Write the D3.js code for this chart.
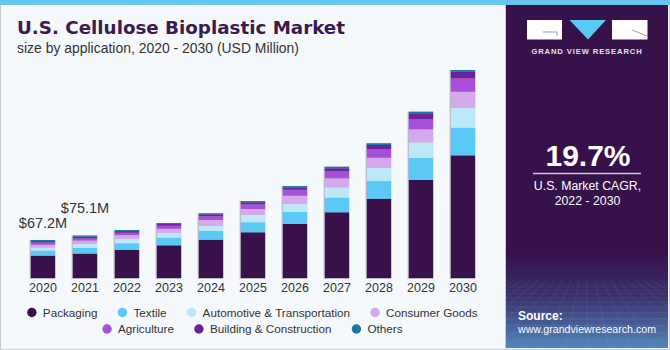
<!DOCTYPE html>
<html>
<head>
<meta charset="utf-8">
<script src="https://cdn.jsdelivr.net/npm/d3@7"></script>
<style>
  html, body { margin: 0; padding: 0; background: #fff; }
  svg { display: block; font-family: "Liberation Sans", Arial, sans-serif; }
</style>
</head>
<body>
<div id="chart"></div>
<script>
// values in USD million
const years = ["2020", "2021", "2022", "2023", "2024", "2025", "2026", "2027", "2028", "2029", "2030"];
const segments = ["Packaging", "Textile", "Automotive & Transportation", "Consumer Goods", "Agriculture", "Building & Construction", "Others"];
const packaging    = [39.5, 43.2, 49.5, 57.8, 67.7, 80.8, 95.5, 116.2, 140.2, 173.3, 216.9];
const textile      = [8.8, 9.9, 11.8, 13.4, 15.4, 17.7, 21.2, 25.8, 31.3, 38.9, 48.8];
const automotive   = [5.8, 7.1, 8.1, 8.3, 9.4, 12.9, 14.7, 18.4, 23.5, 27.8, 35.4];
const consumer     = [4.8, 6.0, 6.5, 7.6, 10.1, 10.6, 14.1, 15.9, 17.7, 23.0, 28.3];
const agriculture  = [4.1, 4.1, 4.1, 5.3, 6.5, 8.3, 10.6, 12.9, 15.4, 18.2, 23.7];
const building     = [2.3, 3.0, 3.0, 3.0, 3.5, 3.5, 4.2, 4.8, 7.1, 10.1, 11.7];
const others       = [1.8, 1.8, 1.8, 1.8, 1.8, 2.3, 2.3, 2.8, 3.0, 2.8, 3.0];
const valueLabels = [{ year: "2020", text: "$67.2M", lift: 12 }, { year: "2021", text: "$75.1M", lift: 23 }];
const colors = ["#38104a", "#5bc9f6", "#bde8f8", "#d6a8ec", "#a64fd8", "#6e1f9a", "#16779f"];

const W = 670, H = 350;
const series = [packaging, textile, automotive, consumer, agriculture, building, others];
const table = years.map((y, i) => {
  const row = { year: y };
  segments.forEach((s, j) => row[s] = series[j][i]);
  return row;
});

const svg = d3.select("#chart").append("svg").attr("width", W).attr("height", H);

// background
svg.append("rect").attr("width", W).attr("height", H).attr("fill", "#f5f9fc");
svg.append("rect").attr("x", 0.5).attr("y", 0.5).attr("width", W - 1).attr("height", H - 1)
  .attr("fill", "none").attr("stroke", "#c9c9c9");

// right panel
const defs = svg.append("defs");
const grad = defs.append("linearGradient").attr("id", "panelGrad").attr("x1", 0).attr("y1", 0).attr("x2", 0).attr("y2", 1);
grad.append("stop").attr("offset", "0%").attr("stop-color", "#37114a");
grad.append("stop").attr("offset", "72%").attr("stop-color", "#37114a");
grad.append("stop").attr("offset", "85%").attr("stop-color", "#3a2f6a");
grad.append("stop").attr("offset", "100%").attr("stop-color", "#5285bd");
const px0 = 506, px1 = 668;
svg.append("rect").attr("x", px0).attr("y", 0).attr("width", px1 - px0).attr("height", H - 2)
  .attr("fill", "url(#panelGrad)");

// faint mesh at the bottom of the panel
const mesh = svg.append("g").attr("stroke", "#8fb6e0").attr("stroke-width", 0.5).attr("fill", "none");
d3.range(0, 16).forEach(i => {
  const y = 285 + i * i * 0.28 + i * 2;
  if (y < H - 2) mesh.append("line").attr("x1", px0).attr("x2", px1).attr("y1", y).attr("y2", y)
    .attr("opacity", 0.15 + i * 0.02);
});
d3.range(-12, 13).forEach(i => {
  mesh.append("line").attr("x1", Math.max(px0, 587 + i * 8)).attr("y1", 280)
    .attr("x2", 587 + i * 22).attr("y2", H - 2)
    .attr("opacity", 0.22);
});
// clip the mesh to the panel
defs.append("clipPath").attr("id", "panelClip").append("rect")
  .attr("x", px0).attr("y", 0).attr("width", px1 - px0).attr("height", H - 2);
mesh.attr("clip-path", "url(#panelClip)");
svg.append("rect").attr("x", px0 - 1).attr("y", 0).attr("width", 1).attr("height", H).attr("fill", "#c9c9c9");

// top strip
svg.append("rect").attr("x", 0).attr("y", 0).attr("width", W).attr("height", 5).attr("fill", "#66c6ee");

// logo
const logo = svg.append("g");
logo.append("rect").attr("x", 527).attr("y", 20).attr("width", 35).attr("height", 19.5).attr("fill", "#fff");
logo.append("path").attr("d", "M543,32 L557,32 L557,36").attr("stroke", "#8a8296").attr("stroke-width", 0.8).attr("fill", "none");
logo.append("path").attr("d", "M569.5,20 L606,20 L588,39.5 Z").attr("fill", "#5bc9f6");
logo.append("rect").attr("x", 612).attr("y", 20).attr("width", 35.5).attr("height", 19.5).attr("fill", "#fff");
logo.append("path").attr("d", "M632,30 L647,36").attr("stroke", "#8a8296").attr("stroke-width", 0.8);
logo.append("text").attr("x", 587).attr("y", 53.5).attr("text-anchor", "middle")
  .attr("fill", "#e6e2ec").attr("font-size", 7.6).attr("font-weight", "bold")
  .attr("letter-spacing", 0.9).text("GRAND VIEW RESEARCH");

// CAGR block
svg.append("text").attr("x", 588).attr("y", 165.5).attr("text-anchor", "middle")
  .attr("fill", "#fff").attr("font-size", 30).attr("font-weight", "bold").text("19.7%");
svg.append("line").attr("x1", 533).attr("x2", 641).attr("y1", 173.5).attr("y2", 173.5)
  .attr("stroke", "#cfc8d8").attr("stroke-width", 1.3);
svg.append("text").attr("x", 587.5).attr("y", 189.5).attr("text-anchor", "middle")
  .attr("fill", "#fff").attr("font-size", 12.3).text("U.S. Market CAGR,");
svg.append("text").attr("x", 587.5).attr("y", 204.5).attr("text-anchor", "middle")
  .attr("fill", "#fff").attr("font-size", 12.3).text("2022 - 2030");

svg.append("text").attr("x", 518).attr("y", 320).attr("fill", "#fff")
  .attr("font-size", 12).attr("font-weight", "bold").text("Source:");
svg.append("text").attr("x", 518).attr("y", 333).attr("fill", "#fff")
  .attr("font-size", 11.2).attr("textLength", 138).attr("lengthAdjust", "spacingAndGlyphs")
  .text("www.grandviewresearch.com");

// titles
svg.append("text").attr("x", 17).attr("y", 34.3).attr("fill", "#3b1a52")
  .attr("font-size", 17.5).attr("font-weight", "bold")
  .attr("font-family", "DejaVu Sans, Liberation Sans, sans-serif")
  .attr("textLength", 328).attr("lengthAdjust", "spacingAndGlyphs")
  .text("U.S. Cellulose Bioplastic Market");
svg.append("text").attr("x", 17).attr("y", 53.3).attr("fill", "#333")
  .attr("font-size", 14).attr("textLength", 282).attr("lengthAdjust", "spacingAndGlyphs")
  .text("size by application, 2020 - 2030 (USD Million)");

// scales
const x = d3.scaleBand().domain(years).range([22, 484]).paddingInner(0.42).paddingOuter(0.21);
const y = d3.scaleLinear().domain([0, 400]).range([278, 278 - 400 * 38 / 67.2]);

const stacked = d3.stack().keys(segments)(table);
const totals = table.map(r => d3.sum(segments, s => r[s]));

// bar shadows
svg.append("g").selectAll("rect").data(years).join("rect")
  .attr("x", d => x(d) - 1.2)
  .attr("y", (d, i) => y(totals[i]))
  .attr("width", x.bandwidth() + 1.2)
  .attr("height", (d, i) => y(0) - y(totals[i]) + 1)
  .attr("fill", "#a59cb0").attr("opacity", 0.7);

svg.append("g").selectAll("g").data(stacked).join("g")
  .attr("fill", (d, i) => colors[i])
  .selectAll("rect").data(d => d).join("rect")
  .attr("x", d => x(d.data.year))
  .attr("y", d => y(d[1]))
  .attr("width", x.bandwidth())
  .attr("height", d => y(d[0]) - y(d[1]));

// x axis labels
const axis = svg.append("g").attr("transform", `translate(0,${y(0)})`)
  .call(d3.axisBottom(x).tickSize(0).tickPadding(14));
axis.select(".domain").remove();
axis.selectAll("text").attr("font-size", 12.5).attr("fill", "#333")
  .attr("font-family", "Liberation Sans, Arial, sans-serif").attr("dy", 0);

// value labels
svg.append("g").selectAll("text").data(valueLabels).join("text")
  .attr("x", d => x(d.year) + x.bandwidth() / 2)
  .attr("y", d => y(totals[years.indexOf(d.year)]) - d.lift)
  .attr("text-anchor", "middle").attr("fill", "#333").attr("font-size", 14.5)
  .text(d => d.text);

// legend
const rows = [segments.slice(0, 4), segments.slice(4)];
const rowY = [312.5, 329];
const legendCenter = 252.5;
rows.forEach((row, r) => {
  const g = svg.append("g");
  let cx = 0;
  row.forEach(name => {
    const item = g.append("g").attr("transform", `translate(${cx},${rowY[r]})`);
    item.append("circle").attr("r", 4.7).attr("fill", colors[segments.indexOf(name)]);
    const t = item.append("text").attr("x", 11).attr("y", 4).attr("font-size", 11.7)
      .attr("fill", "#333").text(name);
    cx += 11 + t.node().getComputedTextLength() + 25;
  });
  const bb = g.node().getBBox();
  g.attr("transform", `translate(${legendCenter - (bb.x + bb.width / 2)},0)`);
});
</script>
</body>
</html>
